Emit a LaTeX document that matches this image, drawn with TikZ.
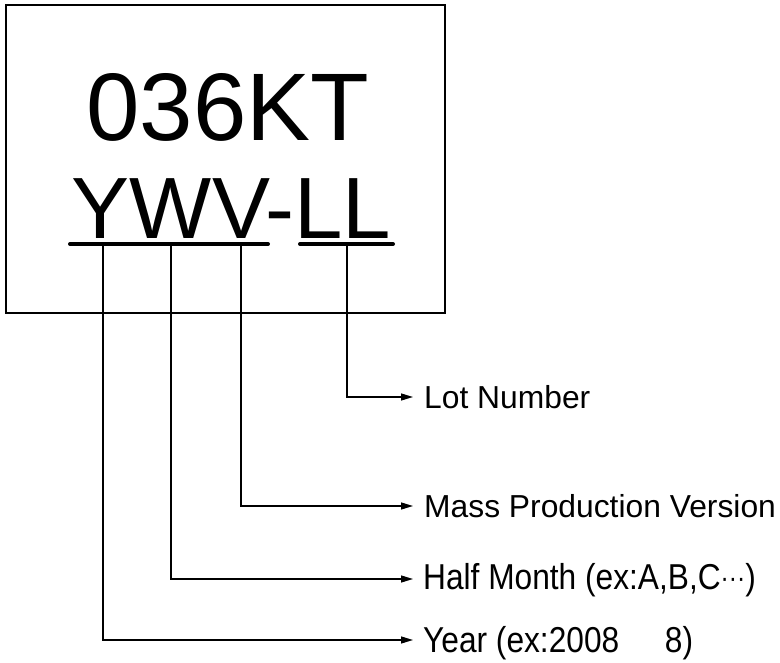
\documentclass[tikz,border=0pt]{standalone}
\usepackage{fontspec}
\setmainfont{Liberation Sans}
\usetikzlibrary{arrows.meta}
\newcommand{\mydots}{{\fontsize{28}{28}\selectfont\raisebox{2pt}{···}}}
\begin{document}
\begin{tikzpicture}[x=1pt,y=-1pt,
  conn/.style={line width=1.3pt,-{Triangle[length=12pt,width=7pt]}},
  uline/.style={line width=4pt,line cap=round},
  lbl/.style={anchor=base west,inner sep=0pt,font=\fontsize{31.8}{31.8}\selectfont},
  nlbl/.style={anchor=base west,inner sep=0pt,xscale=0.88,font=\fontsize{36}{36}\selectfont}]
\useasboundingbox (0,0) rectangle (780,663);
\node[draw,line width=2pt,minimum width=439pt,minimum height=308pt,inner sep=0pt] (box) at (225.5,159.5) {};
\node[anchor=base,inner sep=0pt,font=\fontsize{96}{96}\selectfont] (top) at (228,141) {036KT};
\node[anchor=base,inner sep=0pt,font=\fontsize{87}{87}\selectfont] (code) at (231.5,239) {YWV-LL};
\coordinate (u1a) at (70,244); \coordinate (u1b) at (268,244);
\coordinate (u2a) at (300,244); \coordinate (u2b) at (393,244);
\draw[uline] (u1a) -- (u1b);
\draw[uline] (u2a) -- (u2b);
\coordinate (yv) at (103,244);
\coordinate (wv) at (171,244);
\coordinate (vv) at (241,244);
\coordinate (lv) at (347,244);
\node[lbl] (lot) at (424,409) {Lot Number};
\node[lbl] (mass) at (424,517) {Mass Production Version};
\node[nlbl] (half) at (423,589) {Half Month (ex:A,B,C\mydots)};
\node[nlbl] (year) at (423,652) {Year (ex:2008\hspace{52pt}8)};
\coordinate (lt) at (413,397);
\coordinate (mt) at (413,506);
\coordinate (ht) at (413,579);
\coordinate (yt) at (413,640);
\draw[conn] (lv) |- (lt);
\draw[conn] (vv) |- (mt);
\draw[conn] (wv) |- (ht);
\draw[conn] (yv) |- (yt);
\end{tikzpicture}
\end{document}
